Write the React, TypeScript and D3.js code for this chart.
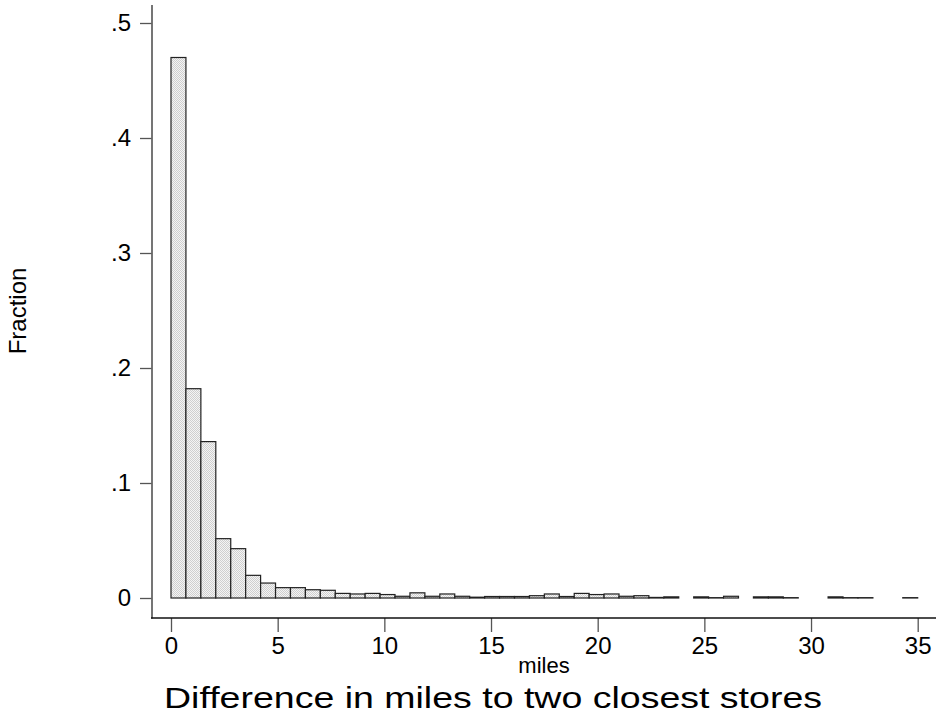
import React, { useRef, useEffect } from "react";
import * as d3 from "d3";

// histogram of miles, 50 bins of 0.7 miles from 0 to 35
const binStart = 0;
const binWidth = 0.7;
const fractions = [
  0.47, 0.182, 0.136, 0.0516, 0.0429, 0.0197, 0.013, 0.009, 0.009, 0.0072,
  0.0067, 0.004, 0.0035, 0.004, 0.003, 0.0015, 0.0045, 0.0015, 0.0035, 0.0015,
  0.0007, 0.0013, 0.0013, 0.0013, 0.002, 0.0035, 0.0013, 0.004, 0.003, 0.0035,
  0.0015, 0.002, 0.0005, 0.001, 0, 0.001, 0.0003, 0.0015, 0, 0.001,
  0.001, 0.0003, 0, 0, 0.001, 0.0003, 0.0003, 0, 0, 0.0003,
];
const xTicks = [0, 5, 10, 15, 20, 25, 30, 35];
const yTicks = [0, 0.1, 0.2, 0.3, 0.4, 0.5];

const App = () => {
  const ref = useRef<SVGSVGElement>(null);

  useEffect(() => {
    const svg = d3.select(ref.current);
    svg.selectAll("*").remove();

    const x = d3.scaleLinear().domain([0, 35]).range([171, 917.7]);
    const y = d3.scaleLinear().domain([0, 0.5]).range([598, 23]);
    const font = "Arial, 'Liberation Sans', sans-serif";

    const defs = svg.append("defs");
    const pat = defs.append("pattern")
      .attr("id", "stip")
      .attr("width", 2)
      .attr("height", 2)
      .attr("patternUnits", "userSpaceOnUse");
    pat.append("rect").attr("width", 2).attr("height", 2).attr("fill", "#f4f4f4");
    pat.append("rect").attr("width", 1).attr("height", 1).attr("fill", "#cfcfcf");
    pat.append("rect").attr("x", 1).attr("y", 1).attr("width", 1).attr("height", 1).attr("fill", "#cfcfcf");

    const bins = fractions.map((v, i) => ({ x0: binStart + i * binWidth, v }));

    svg.append("g")
      .selectAll("rect")
      .data(bins.filter(d => d.v > 0))
      .join("rect")
      .attr("x", d => x(d.x0))
      .attr("y", d => y(d.v))
      .attr("width", d => x(d.x0 + binWidth) - x(d.x0))
      .attr("height", d => y(0) - y(d.v))
      .attr("fill", "url(#stip)")
      .attr("stroke", "#222")
      .attr("stroke-width", 1.2);

    // axes
    const yAxis = svg.append("g")
      .attr("transform", "translate(152,0)")
      .call(d3.axisLeft(y).tickValues(yTicks).tickSize(12).tickPadding(9)
        .tickFormat(d => (+d === 0 ? "0" : d3.format(".1f")(+d).replace(/^0/, ""))));
    yAxis.select(".domain").remove();

    const xAxis = svg.append("g")
      .attr("transform", "translate(0,618)")
      .call(d3.axisBottom(x).tickValues(xTicks).tickSize(14).tickPadding(4)
        .tickFormat(d => String(d)));
    xAxis.select(".domain").remove();

    svg.selectAll(".tick line").attr("stroke", "#555").attr("stroke-width", 1.3);
    svg.selectAll(".tick text")
      .attr("font-family", font)
      .attr("font-size", 24)
      .attr("fill", "#000");
    xAxis.selectAll(".tick text").attr("dy", "0.75em");

    svg.append("line")
      .attr("x1", 152).attr("x2", 152).attr("y1", 5).attr("y2", 618.5)
      .attr("stroke", "#666").attr("stroke-width", 1.8);
    svg.append("line")
      .attr("x1", 151).attr("x2", 936).attr("y1", 618).attr("y2", 618)
      .attr("stroke", "#111").attr("stroke-width", 1.5);

    svg.append("text")
      .attr("transform", "translate(26,311) rotate(-90)")
      .attr("text-anchor", "middle")
      .attr("font-family", font)
      .attr("font-size", 24)
      .text("Fraction");

    svg.append("text")
      .attr("x", 544)
      .attr("y", 673)
      .attr("text-anchor", "middle")
      .attr("font-family", font)
      .attr("font-size", 22)
      .text("miles");

    svg.append("text")
      .attr("x", 164)
      .attr("y", 708)
      .attr("font-family", font)
      .attr("font-size", 30)
      .attr("textLength", 658)
      .attr("lengthAdjust", "spacingAndGlyphs")
      .text("Difference in miles to two closest stores");
  }, []);

  return (
    <svg
      ref={ref}
      width={938}
      height={715}
      style={{ position: "absolute", left: 0, top: 0, background: "#fff" }}
    />
  );
};

export default App;
